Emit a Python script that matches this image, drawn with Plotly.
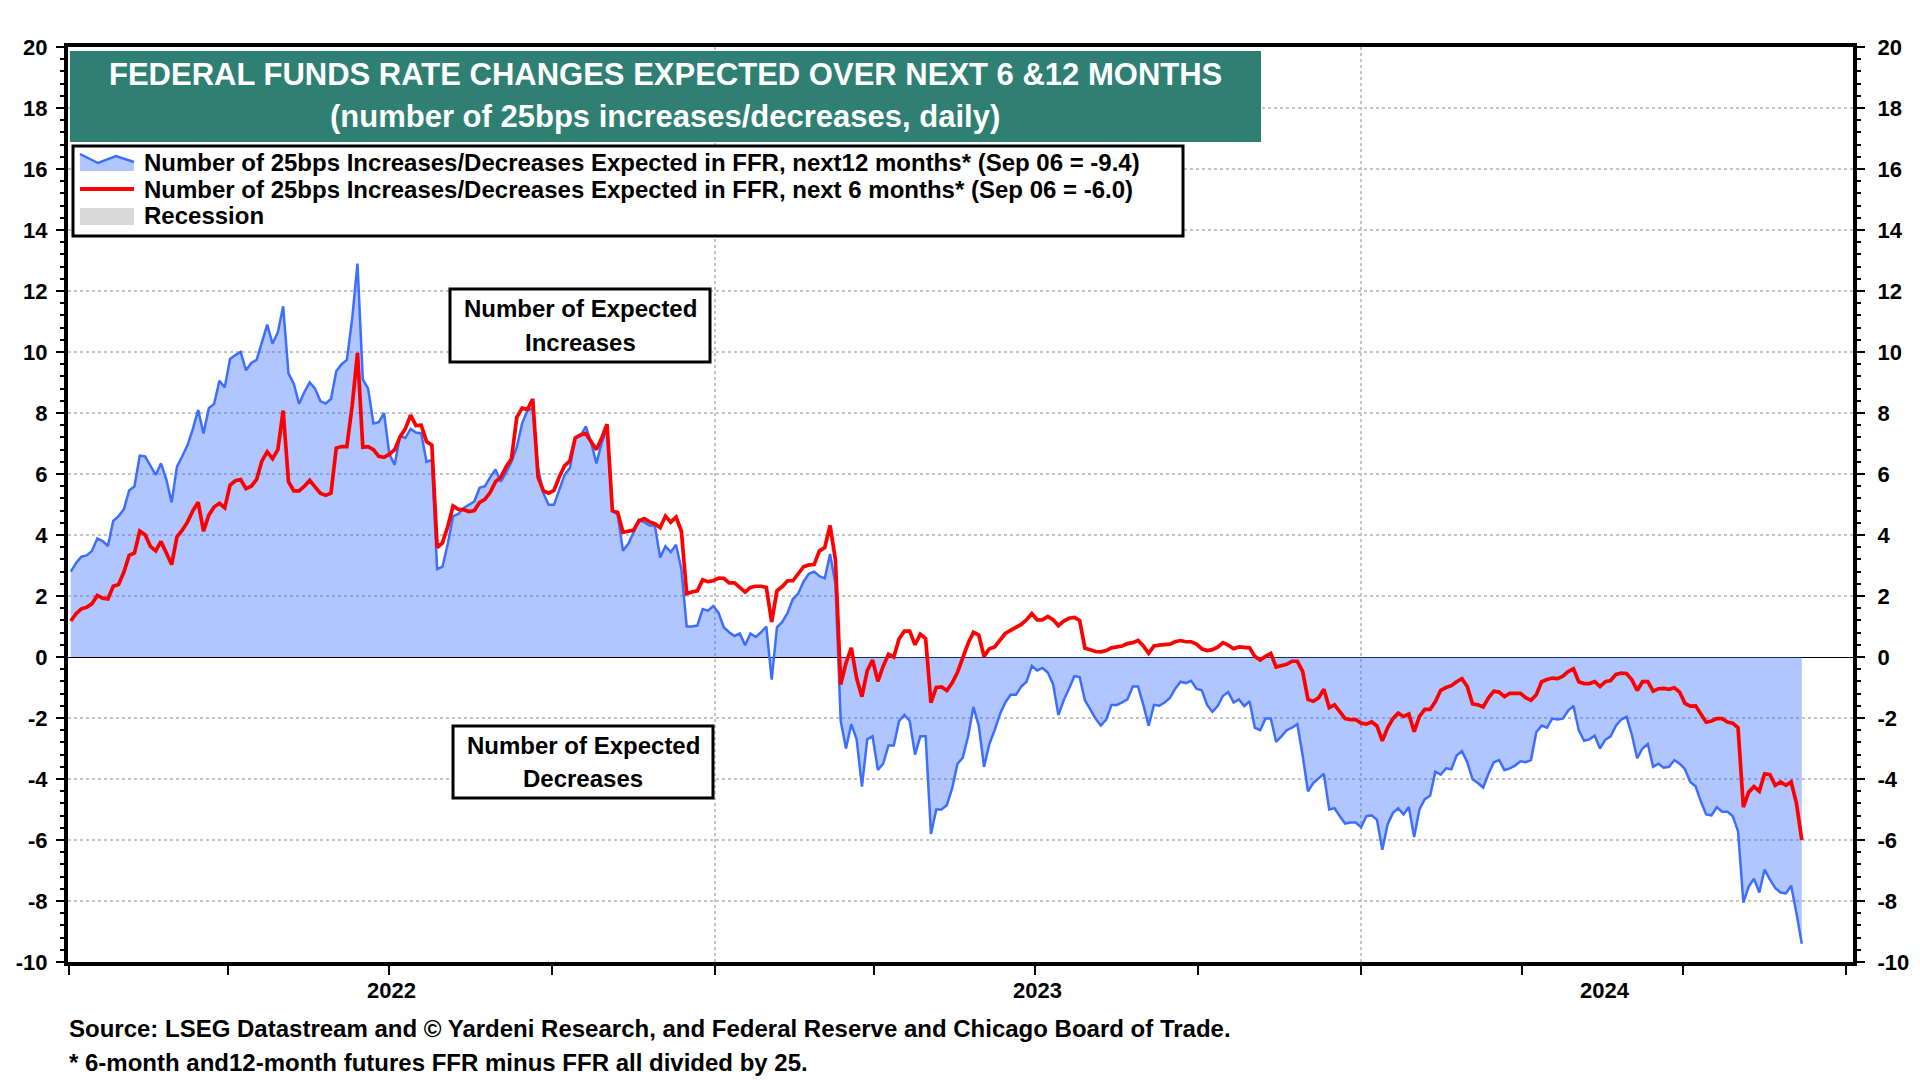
import pandas as pd
import plotly.graph_objects as go

# ---------------- data ----------------
dates = pd.date_range("2022-01-02", "2024-09-06", freq="3D")

exp_12m = [
    2.8, 3.08, 3.29, 3.33, 3.48, 3.89, 3.8, 3.64, 4.46, 4.62,
    4.84, 5.46, 5.6, 6.6, 6.58, 6.27, 5.97, 6.35, 5.82, 5.07,
    6.24, 6.58, 6.95, 7.48, 8.1, 7.33, 8.16, 8.3, 9.06, 8.84,
    9.77, 9.9, 10.0, 9.4, 9.64, 9.74, 10.35, 10.9, 10.27, 10.65,
    11.5, 9.3, 8.96, 8.3, 8.69, 9.0, 8.8, 8.39, 8.31, 8.46,
    9.37, 9.6, 9.74, 11.1, 12.9, 9.1, 8.8,
    7.66, 7.7, 8.0, 6.65, 6.3, 7.25, 7.18, 7.48, 7.36, 7.33,
    6.4, 6.46, 2.88, 2.96, 3.71, 4.62, 4.69, 4.89, 4.99, 5.1,
    5.55, 5.6, 5.9, 6.15, 5.75, 6.05, 6.4, 6.88, 7.66, 8.08,
    8.16, 6.2, 5.37, 4.99, 4.99, 5.49, 5.97, 6.2, 7.18, 7.25,
    7.56, 7.03, 6.35, 7.03, 7.48, 4.77, 4.68, 3.48, 3.71, 4.09,
    4.5, 4.42, 4.31, 4.31, 3.26, 3.63,
    3.44, 3.68, 2.88, 1.0, 1.0, 1.03, 1.57, 1.52, 1.67, 1.45,
    0.97, 0.81, 0.69, 0.77, 0.39, 0.77, 0.66, 0.81, 1.0, -0.74,
    0.97, 1.15, 1.45, 1.9, 2.08, 2.47, 2.73, 2.8, 2.65, 2.58,
    3.38, 2.4, -2.1, -3.0, -2.2, -2.7, -4.25, -2.7, -2.6, -3.7,
    -3.5, -2.9, -2.9, -2.1, -1.9, -2.1, -3.2, -2.6, -2.6, -5.8,
    -5.0, -5.0, -4.85, -4.3, -3.5, -3.3, -2.6,
    -1.64, -2.25, -3.6, -2.85, -2.4, -1.87, -1.49, -1.24, -1.24, -0.97,
    -0.81, -0.29, -0.44, -0.36, -0.51, -0.89, -1.9, -1.42, -1.04, -0.63,
    -0.66, -1.42, -1.72, -2.02, -2.25, -2.05, -1.57, -1.57, -1.49, -1.39,
    -0.97, -0.97, -1.57, -2.25, -1.57, -1.6, -1.49, -1.34, -1.04, -0.81,
    -0.86, -0.78, -1.04, -1.09, -1.57, -1.8, -1.61, -1.27, -1.15, -1.49,
    -1.39, -1.61, -1.45, -2.32, -2.4, -2.02,
    -2.02, -2.78, -2.6, -2.4, -2.32, -2.2, -3.23, -4.4, -4.13, -3.98,
    -3.83, -5.0, -4.96, -5.22, -5.46, -5.43, -5.43, -5.58, -5.22, -5.19,
    -5.34, -6.32, -5.49, -5.11, -4.96, -5.16, -4.92, -5.9, -5.0, -4.66,
    -4.55, -3.76, -3.86, -3.65, -3.68, -3.23, -3.08, -3.45, -4.01, -4.13,
    -4.28, -3.83, -3.45, -3.38, -3.71, -3.65, -3.56, -3.42, -3.45, -3.38,
    -2.47, -2.25, -2.32, -2.02, -2.05, -2.02, -1.76,
    -1.6, -2.4, -2.75, -2.7, -2.58, -3.0, -2.71, -2.6, -2.25, -2.05,
    -1.96, -2.55, -3.32, -3.0, -2.85, -3.6, -3.5, -3.63, -3.6, -3.38,
    -3.5, -3.68, -4.1, -4.24, -4.74, -5.16, -5.19, -4.92, -5.07, -5.07,
    -5.22, -5.72, -8.05, -7.53, -7.27, -7.72, -6.97, -7.3, -7.57, -7.72,
    -7.75, -7.5, -8.4, -9.4,
]

exp_6m = [
    1.18, 1.42, 1.58, 1.63, 1.75, 2.02, 1.93, 1.9, 2.32, 2.38,
    2.78, 3.33, 3.41, 4.13, 4.01, 3.63, 3.48, 3.79, 3.41, 3.03,
    3.94, 4.16, 4.43, 4.8, 5.07, 4.13, 4.65, 4.92, 5.04, 4.89,
    5.64, 5.78, 5.82, 5.52, 5.6, 5.82, 6.43, 6.73, 6.5, 6.8,
    8.08, 5.75, 5.45, 5.45, 5.6, 5.79, 5.58, 5.37, 5.3, 5.37,
    6.85, 6.9, 6.9, 8.24, 9.97, 6.88, 6.9,
    6.8, 6.58, 6.55, 6.65, 6.8, 7.21, 7.48, 7.93, 7.59, 7.6,
    7.06, 6.95, 3.59, 3.74, 4.28, 4.95, 4.84, 4.83, 4.77, 4.8,
    5.07, 5.17, 5.4, 5.75, 5.9, 6.24, 6.5, 7.86, 8.16, 8.11,
    8.46, 5.9, 5.45, 5.37, 5.46, 5.9, 6.27, 6.43, 7.18, 7.28,
    7.33, 7.06, 6.8, 7.18, 7.63, 4.8, 4.74, 4.09, 4.13, 4.16,
    4.46, 4.54, 4.43, 4.37, 4.24, 4.62,
    4.42, 4.59, 4.13, 2.08, 2.13, 2.17, 2.53, 2.47, 2.5, 2.59,
    2.58, 2.43, 2.43, 2.28, 2.13, 2.28, 2.32, 2.32, 2.28, 1.15,
    2.17, 2.31, 2.5, 2.5, 2.73, 2.96, 3.02, 3.03, 3.48, 3.59,
    4.31, 3.2, -0.9, -0.2, 0.3, -0.7, -1.3, -0.45, -0.1, -0.8,
    -0.3, 0.09, 0.0, 0.6, 0.85, 0.85, 0.4, 0.75, 0.6, -1.5,
    -1.0, -0.98, -1.1, -0.85, -0.5, -0.05, 0.45,
    0.81, 0.72, 0.02, 0.27, 0.33, 0.54, 0.77, 0.87, 0.97, 1.07,
    1.22, 1.42, 1.22, 1.22, 1.33, 1.22, 1.03, 1.18, 1.27, 1.3,
    1.2, 0.29, 0.24, 0.18, 0.17, 0.21, 0.3, 0.32, 0.36, 0.44,
    0.47, 0.54, 0.36, 0.12, 0.36, 0.39, 0.42, 0.42, 0.5, 0.54,
    0.5, 0.5, 0.42, 0.27, 0.21, 0.24, 0.32, 0.47, 0.39, 0.27,
    0.33, 0.3, 0.3, 0.02, -0.1, 0.02,
    0.12, -0.33, -0.29, -0.24, -0.14, -0.14, -0.47, -1.39, -1.45, -1.34,
    -1.06, -1.66, -1.57, -1.8, -2.02, -2.05, -2.05, -2.17, -2.2, -2.13,
    -2.26, -2.75, -2.32, -2.02, -1.84, -1.95, -1.87, -2.45, -1.95, -1.72,
    -1.72, -1.46, -1.09, -1.0, -0.94, -0.81, -0.71, -0.97, -1.54, -1.57,
    -1.64, -1.34, -1.12, -1.15, -1.3, -1.19, -1.18, -1.19, -1.33, -1.42,
    -1.24, -0.81, -0.74, -0.69, -0.71, -0.63, -0.48,
    -0.39, -0.81, -0.87, -0.87, -0.81, -0.97, -0.81, -0.77, -0.57, -0.53,
    -0.54, -0.75, -1.1, -0.81, -0.81, -1.12, -1.04, -1.03, -1.06, -1.01,
    -1.15, -1.52, -1.61, -1.6, -1.9, -2.14, -2.1, -2.02, -2.02, -2.13,
    -2.17, -2.32, -4.92, -4.43, -4.25, -4.4, -3.83, -3.86, -4.21, -4.1,
    -4.21, -4.1, -4.8, -6.0,
]

assert len(exp_12m) == len(dates) and len(exp_6m) == len(dates)

y_tick_vals = list(range(-10, 21, 2))
y_tick_text = [str(v) for v in y_tick_vals]  # plain hyphen minus, as in the source
year_labels = ["2022", "2023", "2024"]
year_label_dates = ["2022-07-02", "2023-07-02", "2024-05-18"]

title_lines = [
    "FEDERAL FUNDS RATE CHANGES EXPECTED OVER NEXT 6 &12 MONTHS",
    "(number of 25bps increases/decreases, daily)",
]
legend_labels = [
    "Number of 25bps Increases/Decreases Expected in FFR, next12 months* (Sep 06 = -9.4)",
    "Number of 25bps Increases/Decreases Expected in FFR, next 6 months* (Sep 06 = -6.0)",
    "Recession",
]
box_up = ["Number of Expected", "Increases"]
box_down = ["Number of Expected", "Decreases"]
footer_lines = [
    "Source: LSEG Datastream and © Yardeni Research, and Federal Reserve and Chicago Board of Trade.",
    "* 6-month and12-month futures FFR minus FFR all divided by 25.",
]

# ---------------- styling ----------------
W, H = 1920, 1080
L, R, T, B = 68, 67, 47, 118
PW, PH = W - L - R, H - T - B

FONT = "Arial, 'Liberation Sans', sans-serif"
BLUE = "#3C6EFF"
FILL = "rgba(60,110,255,0.40)"
FILL_SOLID = "#B1C5FF"
RED = "#FF0000"
TEAL = "#2F7F73"
GRID = "#C4C4C4"


def fx(px):
    return (px - L) / PW


def fy(py):
    return (T + PH - py) / PH


fig = go.Figure()
fig.add_trace(go.Scatter(
    x=dates, y=exp_12m, mode="lines", name=legend_labels[0],
    line=dict(color=BLUE, width=2.5), fill="tozeroy", fillcolor=FILL,
    showlegend=False,
))
fig.add_trace(go.Scatter(
    x=dates, y=exp_6m, mode="lines", name=legend_labels[1],
    line=dict(color=RED, width=3.7), showlegend=False,
))
fig.add_trace(go.Scatter(
    x=[dates[0]], y=[0], yaxis="y2", mode="none",
    showlegend=False, hoverinfo="skip",
))

tickfont = dict(family=FONT, size=22, color="black", weight="bold")
yaxis_common = dict(
    range=[-10, 20], tickmode="array",
    tickvals=y_tick_vals, ticktext=y_tick_text,
    ticks="outside", ticklen=8, tickwidth=2, tickcolor="black",
    tickfont=tickfont,
    showline=True, linewidth=4, linecolor="black",
    minor=dict(dtick=0.4, tick0=0, ticks="outside", ticklen=4,
               tickwidth=1.5, tickcolor="black", showgrid=False),
    fixedrange=True,
)

fig.update_layout(
    width=W, height=H,
    margin=dict(l=L, r=R, t=T, b=B, autoexpand=False),
    paper_bgcolor="white", plot_bgcolor="white",
    font=dict(family=FONT, color="black"),
    showlegend=False,
    xaxis=dict(
        type="date", range=["2021-12-31 10:30", "2024-10-04 22:30"],
        tick0="2022-01-01", dtick="M12",
        ticks="outside", ticklen=9, tickwidth=2, tickcolor="black",
        showticklabels=False,
        showgrid=True, gridcolor=GRID, gridwidth=2, griddash="dot",
        showline=True, linewidth=4, linecolor="black", mirror=True,
        zeroline=False,
        minor=dict(dtick="M3", tick0="2022-01-01", ticks="outside",
                   ticklen=9, tickwidth=2, tickcolor="black", showgrid=False),
        fixedrange=True,
    ),
    yaxis=dict(
        **yaxis_common, ticklabelstandoff=4,
        showgrid=True, gridcolor=GRID, gridwidth=2, griddash="dot",
        zeroline=True, zerolinecolor="black", zerolinewidth=1.2,
    ),
    yaxis2=dict(
        **yaxis_common, ticklabelstandoff=8,
        overlaying="y", side="right",
        showgrid=False, zeroline=False,
    ),
)

shapes = []
# title box
shapes.append(dict(type="rect", xref="paper", yref="paper",
                   x0=fx(70), x1=fx(1261), y0=fy(142), y1=fy(51),
                   fillcolor=TEAL, line=dict(width=0), layer="above"))
# legend box
shapes.append(dict(type="rect", xref="paper", yref="paper",
                   x0=fx(73), x1=fx(1183), y0=fy(236), y1=fy(146),
                   fillcolor="white", line=dict(color="black", width=3),
                   layer="above"))
# legend icon: area series
icon_top = [(80, 154), (98, 163), (116, 156), (134, 162)]
area_path = "M {} {} ".format(fx(80), fy(171))
for (a, b) in icon_top:
    area_path += "L {} {} ".format(fx(a), fy(b))
area_path += "L {} {} Z".format(fx(134), fy(171))
shapes.append(dict(type="path", xref="paper", yref="paper", path=area_path,
                   fillcolor=FILL_SOLID, line=dict(width=0), layer="above"))
line_path = "M {} {} ".format(fx(icon_top[0][0]), fy(icon_top[0][1]))
for (a, b) in icon_top[1:]:
    line_path += "L {} {} ".format(fx(a), fy(b))
shapes.append(dict(type="path", xref="paper", yref="paper", path=line_path,
                   line=dict(color=BLUE, width=2.5), layer="above"))
# legend icon: red line
shapes.append(dict(type="line", xref="paper", yref="paper",
                   x0=fx(80), x1=fx(134), y0=fy(189), y1=fy(189),
                   line=dict(color=RED, width=4), layer="above"))
# legend icon: recession
shapes.append(dict(type="rect", xref="paper", yref="paper",
                   x0=fx(80), x1=fx(134), y0=fy(225), y1=fy(208),
                   fillcolor="#D9D9D9", line=dict(width=0), layer="above"))
# note boxes
shapes.append(dict(type="rect", xref="paper", yref="paper",
                   x0=fx(450), x1=fx(710), y0=fy(362), y1=fy(289),
                   fillcolor="white", line=dict(color="black", width=3),
                   layer="above"))
shapes.append(dict(type="rect", xref="paper", yref="paper",
                   x0=fx(453), x1=fx(713), y0=fy(798), y1=fy(726),
                   fillcolor="white", line=dict(color="black", width=3),
                   layer="above"))
fig.update_layout(shapes=shapes)

ann = []


def text(x, y, s, size, color="black", xanchor="center", xref="paper"):
    ann.append(dict(x=x, y=y, xref=xref, yref="paper", text="<b>" + s + "</b>",
                    showarrow=False, xanchor=xanchor, yanchor="middle",
                    font=dict(family=FONT, size=size, color=color)))


text(fx(665), fy(75), title_lines[0], 31)
ann[-1]["font"]["color"] = "white"
text(fx(665), fy(117), title_lines[1], 31)
ann[-1]["font"]["color"] = "white"
for s, yy in zip(legend_labels, [162, 189, 216]):
    text(fx(142), fy(yy), s, 24, xanchor="left")
text(fx(580), fy(308), box_up[0], 24)
text(fx(580), fy(342), box_up[1], 24)
text(fx(583), fy(745), box_down[0], 24)
text(fx(583), fy(778), box_down[1], 24)
for lab, d in zip(year_labels, year_label_dates):
    text(d, fy(990), lab, 22, xref="x")
text(fx(67), fy(1028), footer_lines[0], 24, xanchor="left")
text(fx(67), fy(1062), footer_lines[1], 24, xanchor="left")
fig.update_layout(annotations=ann)

fig.write_html("out.html", config={"displayModeBar": False},
               post_script="document.body.style.margin='0';")
